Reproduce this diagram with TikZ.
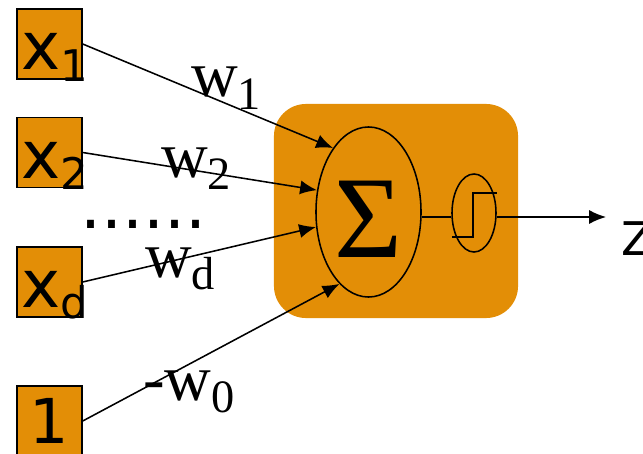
\documentclass[tikz,border=0pt]{standalone}
\usepackage{fontspec}
\setmainfont{DejaVu Sans}
\newfontfamily\wfont{Liberation Serif}
\usepackage{tikz}
\usetikzlibrary{arrows.meta}
\usetikzlibrary{shapes.geometric}
\definecolor{neuron}{RGB}{227,142,6}
\tikzset{inbox/.style = {draw, fill=neuron, line width=1pt, inner sep=0pt,
                         minimum width=1.625cm, minimum height=1.75cm},
         body/.style = {fill=neuron, rounded corners=0.8cm, inner sep=0pt,
                        minimum width=6.1cm, minimum height=5.35cm},
         wire/.style = {-{Latex[length=12pt,width=10pt]}, line width=1.1pt},
         lab/.style = {anchor=base west, inner sep=0pt}}
\newcommand{\insub}[2]{{\fontsize{47}{47}\selectfont #1}\raisebox{-8.5pt}{\fontsize{31}{31}\selectfont #2}}
\newcommand{\wsub}[2]{{\wfont\fontsize{46}{46}\selectfont #1}\raisebox{-9pt}{\wfont\fontsize{33}{33}\selectfont #2}}

\begin{document}
\begin{tikzpicture}[x=0.025cm, y=-0.025cm]
    \useasboundingbox (0, 0) rectangle (643, 453);

    % inputs
    \node [inbox] (x1) at (49.5, 44) {};
    \node [inbox] (x2) at (49.5, 152.5) {};
    \node [inbox] (xd) at (49.5, 282) {};
    \node [inbox] (one) at (49.5, 421) {\fontsize{44}{44}\selectfont 1};
    \node [lab] at (21, 70) {\insub{x}{1}};
    \node [lab] at (21, 178) {\insub{x}{2}};
    \node [lab] at (21, 307) {\insub{x}{d}};
    \node [lab] at (80, 228) {\fontsize{47}{47}\selectfont ......};

    % unit
    \node [body] (unit) at (396, 211) {};
    \node [ellipse, draw, line width=1.1pt, inner sep=0pt, minimum width=2.625cm,
           minimum height=4.25cm, text height=64pt]
          (sum) at (368.5, 212) {\wfont\fontsize{83}{83}\selectfont Σ};
    \node [ellipse, draw, line width=1.1pt, minimum width=1.1cm, minimum height=1.95cm]
          (act) at (474, 213) {};
    \draw [line width=1.1pt] (452, 237) -| (473, 193) -- (497, 193);

    \coordinate (mid) at (0, 217);
    \node [lab, inner xsep=10.5pt] (z) at (606, 255) {\fontsize{33}{33}\selectfont Z};
    \draw [line width=1.1pt] (sum.east |- mid) -- (act.west |- mid);
    \draw [wire] (act.east |- mid) -- (z.west |- mid);

    % weights
    \draw [wire] (x1.east) -- (sum.119);
    \draw [wire] (x2.east) -- (sum.157);
    \draw [wire] (xd.east) -- (sum.196);
    \draw [wire] (one.east) -- (sum.248);
    \node [lab] at (191, 97) {\wsub{w}{1}};
    \node [lab] at (161, 177) {\wsub{w}{2}};
    \node [lab] at (145, 277) {\wsub{w}{d}};
    \node [lab] at (143, 400) {\wsub{-w}{0}};
\end{tikzpicture}
\end{document}
